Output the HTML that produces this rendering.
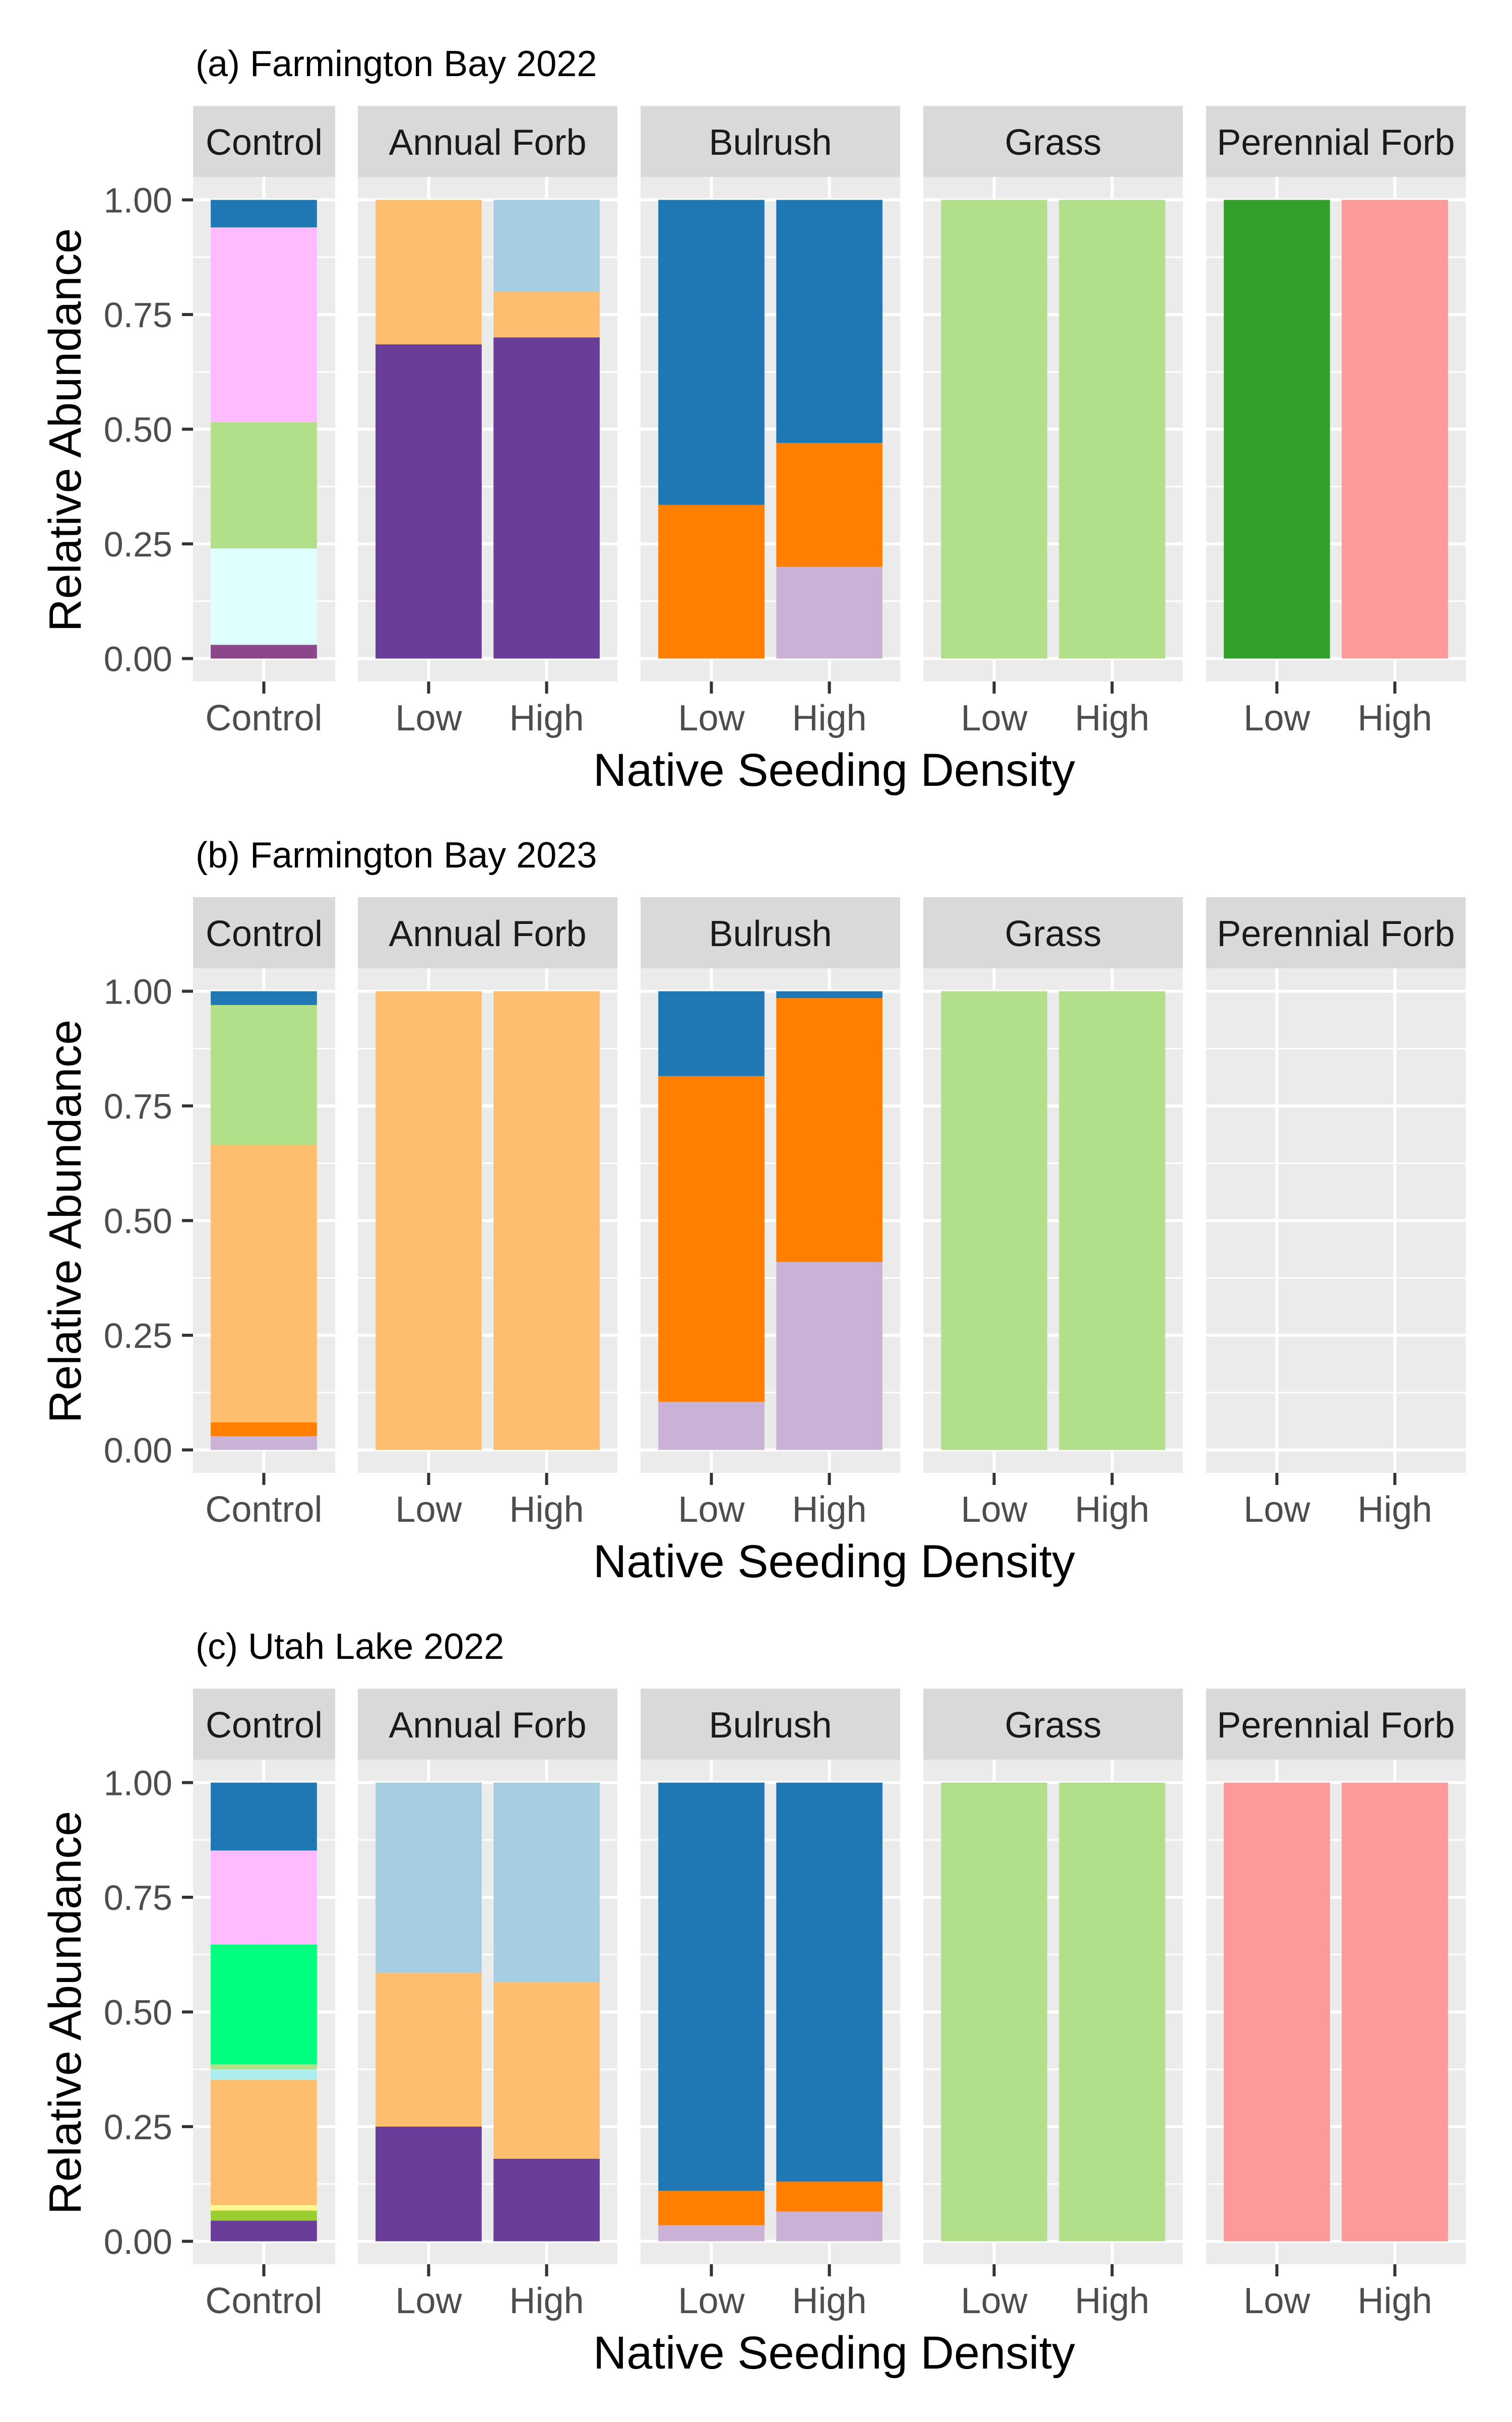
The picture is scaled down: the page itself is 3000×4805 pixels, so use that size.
<!DOCTYPE html>
<html><head><meta charset="utf-8"><style>
html,body{margin:0;padding:0;background:#fff;}
svg text{font-family:"Liberation Sans",sans-serif;}
</style></head><body>
<svg id="chart" xmlns="http://www.w3.org/2000/svg" width="3000" height="4800" viewBox="0 0 3000 4800"></svg>
<script>
const rowTitles = ["(a) Farmington Bay 2022", "(b) Farmington Bay 2023", "(c) Utah Lake 2022"];
const facets = ["Control", "Annual Forb", "Bulrush", "Grass", "Perennial Forb"];
const facetLevels = [["Control"], ["Low","High"], ["Low","High"], ["Low","High"], ["Low","High"]];
const yTicks = [0, 0.25, 0.5, 0.75, 1];
const yTickLabels = ["0.00", "0.25", "0.50", "0.75", "1.00"];
// segments: [facetIndex, levelIndex, color, value] stacked from bottom
const rowA = [
 [0,0,"#8B4789",0.03],[0,0,"#E0FFFF",0.21],[0,0,"#B2DF8A",0.275],[0,0,"#FFBBFF",0.425],[0,0,"#1F78B4",0.06],
 [1,0,"#6A3D9A",0.685],[1,0,"#FDBF6F",0.315],
 [1,1,"#6A3D9A",0.70],[1,1,"#FDBF6F",0.10],[1,1,"#A6CEE3",0.20],
 [2,0,"#FF7F00",0.335],[2,0,"#1F78B4",0.665],
 [2,1,"#CAB2D6",0.20],[2,1,"#FF7F00",0.27],[2,1,"#1F78B4",0.53],
 [3,0,"#B2DF8A",1],[3,1,"#B2DF8A",1],
 [4,0,"#33A02C",1],[4,1,"#FB9A99",1]
];
const rowB = [
 [0,0,"#CAB2D6",0.03],[0,0,"#FF7F00",0.03],[0,0,"#FDBF6F",0.605],[0,0,"#B2DF8A",0.305],[0,0,"#1F78B4",0.03],
 [1,0,"#FDBF6F",1],[1,1,"#FDBF6F",1],
 [2,0,"#CAB2D6",0.105],[2,0,"#FF7F00",0.71],[2,0,"#1F78B4",0.185],
 [2,1,"#CAB2D6",0.41],[2,1,"#FF7F00",0.575],[2,1,"#1F78B4",0.015],
 [3,0,"#B2DF8A",1],[3,1,"#B2DF8A",1]
];
const rowC = [
 [0,0,"#6A3D9A",0.045],[0,0,"#9ACD32",0.022],[0,0,"#FFF68F",0.012],[0,0,"#FDBF6F",0.273],[0,0,"#AEEEEE",0.023],[0,0,"#B2DF8A",0.011],[0,0,"#00FF7F",0.261],[0,0,"#FFBBFF",0.205],[0,0,"#1F78B4",0.148],
 [1,0,"#6A3D9A",0.25],[1,0,"#FDBF6F",0.335],[1,0,"#A6CEE3",0.415],
 [1,1,"#6A3D9A",0.18],[1,1,"#FDBF6F",0.385],[1,1,"#A6CEE3",0.435],
 [2,0,"#CAB2D6",0.035],[2,0,"#FF7F00",0.075],[2,0,"#1F78B4",0.89],
 [2,1,"#CAB2D6",0.065],[2,1,"#FF7F00",0.065],[2,1,"#1F78B4",0.87],
 [3,0,"#B2DF8A",1],[3,1,"#B2DF8A",1],
 [4,0,"#FB9A99",1],[4,1,"#FB9A99",1]
];
const rows = [rowA, rowB, rowC];

const NS = "http://www.w3.org/2000/svg";
const svg = document.getElementById("chart");
const U = 234.1, ROWOFF = 1570, DY = 3;
function mk(tag, attrs, parent, text){const e=document.createElementNS(NS,tag);for(const k in attrs)e.setAttribute(k,attrs[k]);if(text!==undefined)e.textContent=text;(parent||svg).appendChild(e);return e;}
function panelLeft(f){return f===0?383:710+561*(f-1);}
function panelWidth(f){return f===0?282:515;}
function xCenter(f,l){return panelLeft(f)+(0.6+l)*U;}
function yScale(r,v){return ROWOFF*r+DY+1303.5-v*910;}

rows.forEach((segs,r)=>{
  const oy=ROWOFF*r+DY;
  const g=mk("g",{});
  
  
  const t=mk("text",{x:388,y:oy+148,"font-size":72,fill:"#000"},g,rowTitles[r]);
  
  
  facets.forEach((fn,f)=>{
    const L=panelLeft(f),W=panelWidth(f);
    const s=mk("rect",{x:L,y:oy+207,width:W,height:141,fill:"#D9D9D9"},g);
    
    
    const st=mk("text",{x:L+W/2,y:oy+304,"font-size":72,fill:"#1A1A1A","text-anchor":"middle"},g,fn);
    
    
    const bg=mk("rect",{x:L,y:oy+348,width:W,height:1001,fill:"#EBEBEB"},g);
    
    
    [0.125,0.375,0.625,0.875].forEach(v=>{mk("line",{x1:L,x2:L+W,y1:yScale(r,v),y2:yScale(r,v),stroke:"#fff","stroke-width":3},g);});
    yTicks.forEach(v=>{mk("line",{x1:L,x2:L+W,y1:yScale(r,v),y2:yScale(r,v),stroke:"#fff","stroke-width":6},g);});
    facetLevels[f].forEach((lv,l)=>{
      const xc=xCenter(f,l);
      mk("line",{x1:xc,x2:xc,y1:oy+348,y2:oy+1349,stroke:"#fff","stroke-width":6},g);
      mk("line",{x1:xc,x2:xc,y1:oy+1349,y2:oy+1373,stroke:"#333","stroke-width":6},g);
      const xt=mk("text",{x:xc,y:oy+1446,"font-size":72,fill:"#4D4D4D","text-anchor":"middle"},g,lv);
      
      
    });
  });
  const cum={};
  segs.forEach(sg=>{
    const [f,l,c,v]=sg;const k=f+"_"+l;const b=cum[k]||0;
    const xc=xCenter(f,l);
    const rc=mk("rect",{x:xc-0.45*U,y:yScale(r,b+v),width:0.9*U,height:yScale(r,b)-yScale(r,b+v),fill:c},g);
    
    
    cum[k]=b+v;
  });
  yTicks.forEach((v,i)=>{
    const y=yScale(r,v);
    mk("line",{x1:361,x2:383,y1:y,y2:y,stroke:"#333","stroke-width":6},g);
    const yt=mk("text",{x:342,y:y+25,"font-size":70,fill:"#4D4D4D","text-anchor":"end"},g,yTickLabels[i]);
    
    
  });
  const ya=mk("text",{x:0,y:0,"font-size":90,fill:"#000","text-anchor":"middle",transform:"translate(160,"+(oy+850)+") rotate(-90)"},g,"Relative Abundance");
  
  
  const xa=mk("text",{x:1655,y:oy+1556,"font-size":92,fill:"#000","text-anchor":"middle"},g,"Native Seeding Density");
  
  
});
</script>
</body></html>
